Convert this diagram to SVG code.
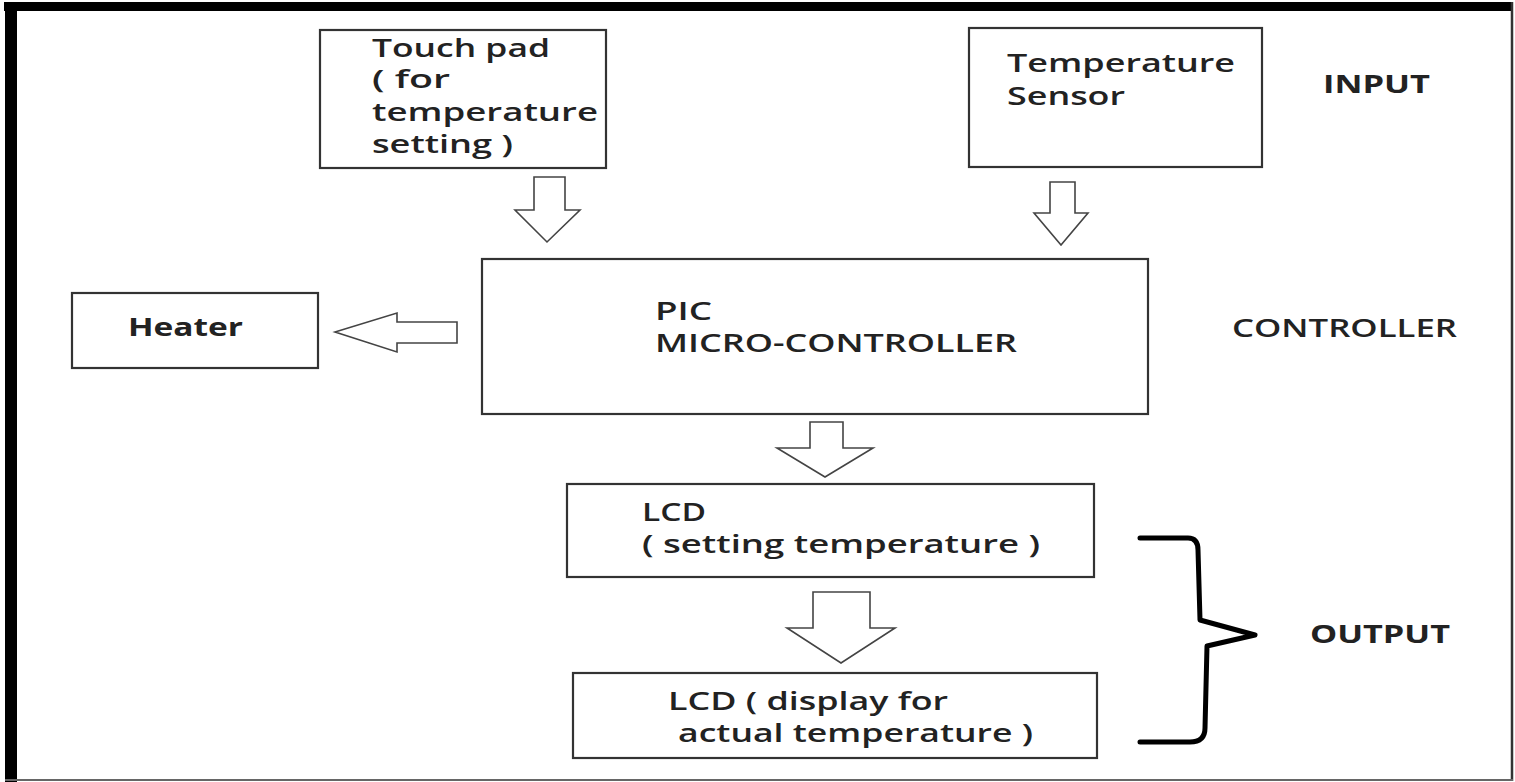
<svg xmlns="http://www.w3.org/2000/svg" width="1515" height="782" viewBox="0 0 1515 782">
<style>
.box{fill:#fff;stroke:#333;stroke-width:2.2}
.t{font-family:"Open Sans","Liberation Sans",sans-serif;font-size:25px;font-weight:600;fill:#222}
.b{font-weight:bold}
.arr{fill:#fff;stroke:#444;stroke-width:1.6;stroke-linejoin:miter}
</style>
<rect x="0" y="0" width="1515" height="782" fill="#fff"/>
<g id="frame">
<rect x="4" y="2" width="1509" height="9" fill="#000"/>
<rect x="5" y="2" width="12" height="780" fill="#000"/>
<line x1="1512" y1="2" x2="1512" y2="781" stroke="#333" stroke-width="2.5"/>
<line x1="5" y1="780" x2="1513" y2="780" stroke="#666" stroke-width="2"/>
</g>
<g id="touchpad">
<rect class="box" x="320" y="30" width="286" height="138"/>
<text class="t" x="372" y="57" textLength="178" lengthAdjust="spacingAndGlyphs">Touch pad</text>
<text class="t" x="372" y="88" textLength="78" lengthAdjust="spacingAndGlyphs">( for</text>
<text class="t" x="372" y="121" textLength="226" lengthAdjust="spacingAndGlyphs">temperature</text>
<text class="t" x="372" y="153" textLength="141" lengthAdjust="spacingAndGlyphs">setting )</text>
</g>
<g id="sensor">
<rect class="box" x="969" y="28" width="293" height="139"/>
<text class="t" x="1007" y="72" textLength="228" lengthAdjust="spacingAndGlyphs">Temperature</text>
<text class="t" x="1007" y="105" textLength="118" lengthAdjust="spacingAndGlyphs">Sensor</text>
</g>
<g id="input-label">
<text class="t b" x="1323" y="93" textLength="107" lengthAdjust="spacingAndGlyphs">INPUT</text>
</g>
<g id="heater">
<rect class="box" x="72" y="293" width="246" height="75"/>
<text class="t b" x="128" y="336" textLength="115" lengthAdjust="spacingAndGlyphs">Heater</text>
</g>
<g id="pic">
<rect class="box" x="482" y="259" width="666" height="155"/>
<text class="t" x="655" y="320" textLength="57" lengthAdjust="spacingAndGlyphs">PIC</text>
<text class="t" x="655" y="352" textLength="362" lengthAdjust="spacingAndGlyphs">MICRO-CONTROLLER</text>
</g>
<g id="controller-label">
<text class="t" x="1232" y="337" textLength="225" lengthAdjust="spacingAndGlyphs">CONTROLLER</text>
</g>
<g id="lcd1">
<rect class="box" x="567" y="484" width="527" height="93"/>
<text class="t" x="642" y="521" textLength="64" lengthAdjust="spacingAndGlyphs">LCD</text>
<text class="t" x="642" y="553" textLength="398" lengthAdjust="spacingAndGlyphs">( setting temperature )</text>
</g>
<g id="lcd2">
<rect class="box" x="573" y="673" width="524" height="85"/>
<text class="t" x="668" y="710" textLength="280" lengthAdjust="spacingAndGlyphs">LCD ( display for</text>
<text class="t" x="678" y="742" textLength="355" lengthAdjust="spacingAndGlyphs">actual temperature )</text>
</g>
<g id="output-label">
<path d="M1140,538 L1188,538 Q1198,538 1198,550 L1200,620 L1255,635 L1207,646 L1205,728 Q1205,742 1190,742 L1140,742" fill="none" stroke="#000" stroke-width="5" stroke-linecap="round" stroke-linejoin="round"/>
<text class="t b" x="1310" y="643" textLength="140" lengthAdjust="spacingAndGlyphs">OUTPUT</text>
</g>
<g id="connectors">
<polygon class="arr" points="534,177 565,177 565,210 580,210 547,242 515,210 534,210"/>
<polygon class="arr" points="1050,182 1075,182 1075,213 1088,213 1061,245 1034,213 1050,213"/>
<polygon class="arr" points="457,322 457,343 397,343 397,352 335,332 397,313 397,322"/>
<polygon class="arr" points="810,422 843,422 843,448 873,448 825,477 777,448 810,448"/>
<polygon class="arr" points="813,592 870,592 870,628 895,628 841,663 787,628 813,628"/>
</g>
</svg>
